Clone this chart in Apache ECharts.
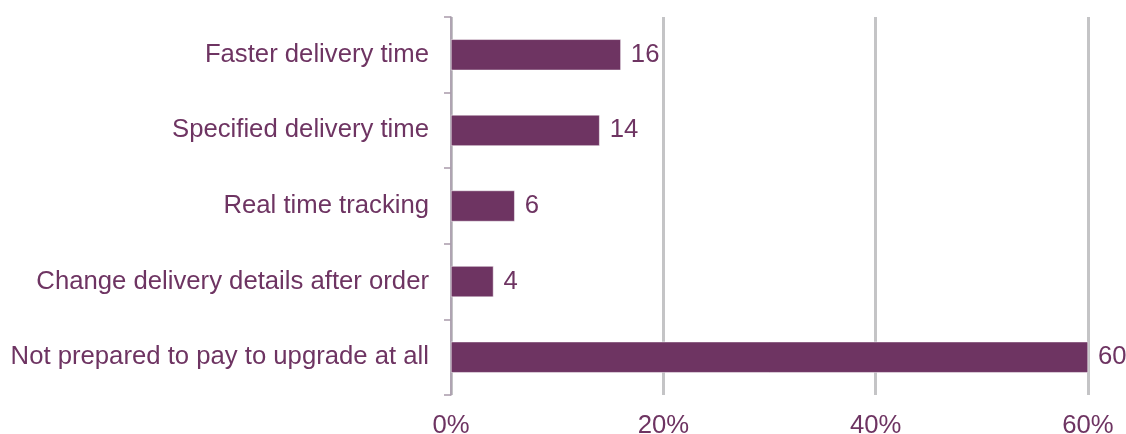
<!DOCTYPE html>
<html>
<head>
<meta charset="utf-8">
<script src="https://cdn.jsdelivr.net/npm/echarts@6/dist/echarts.min.js"></script>
<style>
  html, body { margin: 0; padding: 0; background: #fff; }
  #chart { width: 1126px; height: 434px; }
</style>
</head>
<body>
<div id="chart"></div>
<script>
// Delivery upgrade preferences (share of respondents, %)
const categories = [
  'Not prepared to pay to upgrade at all',
  'Change delivery details after order',
  'Real time tracking',
  'Specified delivery time',
  'Faster delivery time'
];
const values = [60, 4, 6, 14, 16];
const axisMin = 0;
const axisMax = 60;
const axisStep = 20;

const purple = '#6E3462';
const textColor = '#6E3462';
const fontFamily = 'Liberation Sans, Arial, sans-serif';
const fontSize = 25.7;

const chart = echarts.init(document.getElementById('chart'));
chart.setOption({
  animation: false,
  grid: {
    left: 451, right: 38, top: 17, bottom: 39,
    containLabel: false,
    outerBoundsMode: 'none'
  },
  xAxis: {
    type: 'value',
    min: axisMin,
    max: axisMax,
    interval: axisStep,
    axisLine: { show: false },
    axisTick: { show: false },
    axisLabel: {
      formatter: v => v + '%',
      color: textColor,
      fontFamily: fontFamily,
      fontSize: fontSize,
      margin: 18
    },
    splitLine: { show: true, lineStyle: { color: '#C4C4C6', width: 3 } }
  },
  yAxis: {
    type: 'category',
    data: categories,
    axisLine: { show: true, lineStyle: { color: '#A99AAB', width: 1.5 } },
    axisTick: { show: true, inside: false, length: 7, lineStyle: { color: '#A99AAB', width: 1.5 } },
    axisLabel: {
      color: textColor,
      fontFamily: fontFamily,
      fontSize: fontSize,
      margin: 22
    },
    splitLine: { show: false }
  },
  series: [{
    type: 'bar',
    data: values,
    barWidth: 31,
    itemStyle: { color: purple, borderColor: '#ffffff', borderWidth: 0.5 },
    label: {
      show: true,
      position: 'right',
      distance: 10,
      color: textColor,
      fontFamily: fontFamily,
      fontSize: fontSize
    }
  }]
});
</script>
</body>
</html>
